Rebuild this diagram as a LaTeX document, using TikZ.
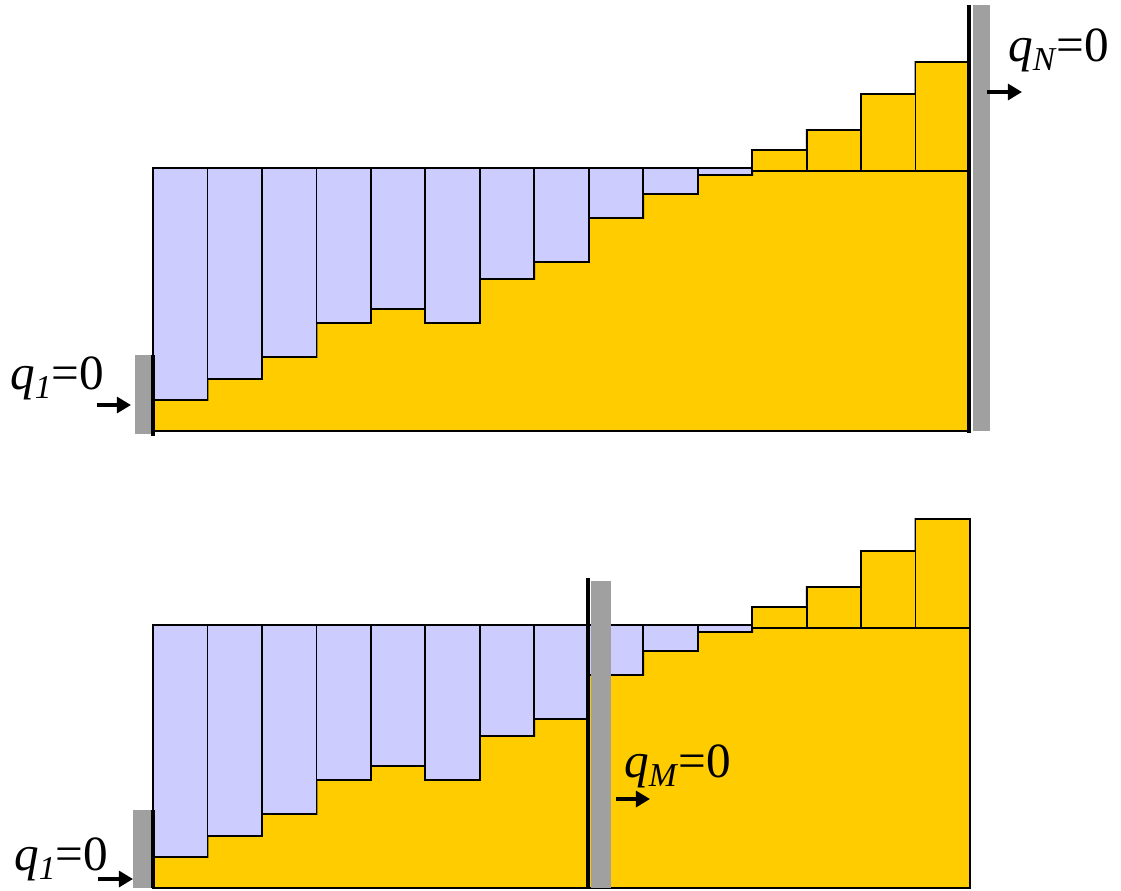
\documentclass[tikz,border=0pt]{standalone}
\usepackage{fontspec}
\setmainfont{Liberation Serif}
\usetikzlibrary{arrows.meta}
\definecolor{Water}{HTML}{CCCCFF}
\definecolor{Sand}{HTML}{FFCC00}
\definecolor{Wall}{HTML}{A0A0A0}
\newcommand{\qlabel}[1]{\textit{q}\raisebox{-0.2em}{\fontsize{19}{19}\selectfont\textit{#1}}=0}

\begin{document}
\begin{tikzpicture}[
    x=0.02cm, y=-0.02cm,
    water/.style={draw=black, fill=Water, line width=1pt},
    sand/.style={draw=black, fill=Sand, line width=1pt},
    wall/.style={fill=Wall},
    edge/.style={line width=1.8pt, black},
    push/.style={-{Triangle[length=8pt,width=9pt]}, line width=2pt},
    tag/.style={anchor=base west, inner sep=0pt, font=\fontsize{28}{30}\selectfont},
]
\useasboundingbox (0,0) rectangle (1121,890);
\def\colw{54.47}

% Columns (same profile in both panels)
\foreach \dy in {0,457} {
  \begin{scope}[shift={(0,\dy)}]
    \filldraw[sand] (153,431)
      \foreach \t [count=\i from 0] in {400,379,357,323,309,323,279,262,218,194,175,150,130,94,62} {
        -- (153+\i*\colw,\t) -- (153+\i*\colw+\colw,\t)
      } -- (970,431) -- cycle;
    \foreach \t [count=\i from 0] in {400,379,357,323,309,323,279,262,218,194,175}
      \draw[water] (153+\i*\colw,168) rectangle (153+\i*\colw+\colw,\t);
    \foreach \t [count=\i from 11] in {150,130,94,62}
      \draw[sand] (153+\i*\colw,171) rectangle (153+\i*\colw+\colw,\t);
  \end{scope}
}

% Walls, top panel
\fill[wall] (135,355) rectangle (153,434);
\draw[edge] (153,355) -- (153,436);
\fill[wall] (973,5) rectangle (990,431);
\draw[edge] (969,5) -- (969,433);

% Walls, bottom panel
\fill[wall] (133,810) rectangle (152,888);
\draw[edge] (153,810) -- (153,888);
\fill[wall] (591,581) rectangle (611,888);
\draw[edge] (588,578) -- (588,888);

% Labels
\node[tag] (q1top) at (10,389) {\qlabel{1}};
\node[tag] (qN) at (1008,61) {\qlabel{N}};
\node[tag] (q1bot) at (14,870) {\qlabel{1}};
\node[tag] (qM) at (624,777) {\qlabel{M}};

% Arrows
\coordinate (p1s) at (97,405);  \coordinate (p1e) at (131,405);
\coordinate (pNs) at (987,92);  \coordinate (pNe) at (1022,92);
\coordinate (p2s) at (98,879);  \coordinate (p2e) at (133,879);
\coordinate (pMs) at (616,799); \coordinate (pMe) at (650,799);
\draw[push] (p1s) -- (p1e);
\draw[push] (pNs) -- (pNe);
\draw[push] (p2s) -- (p2e);
\draw[push] (pMs) -- (pMe);

\end{tikzpicture}
\end{document}
